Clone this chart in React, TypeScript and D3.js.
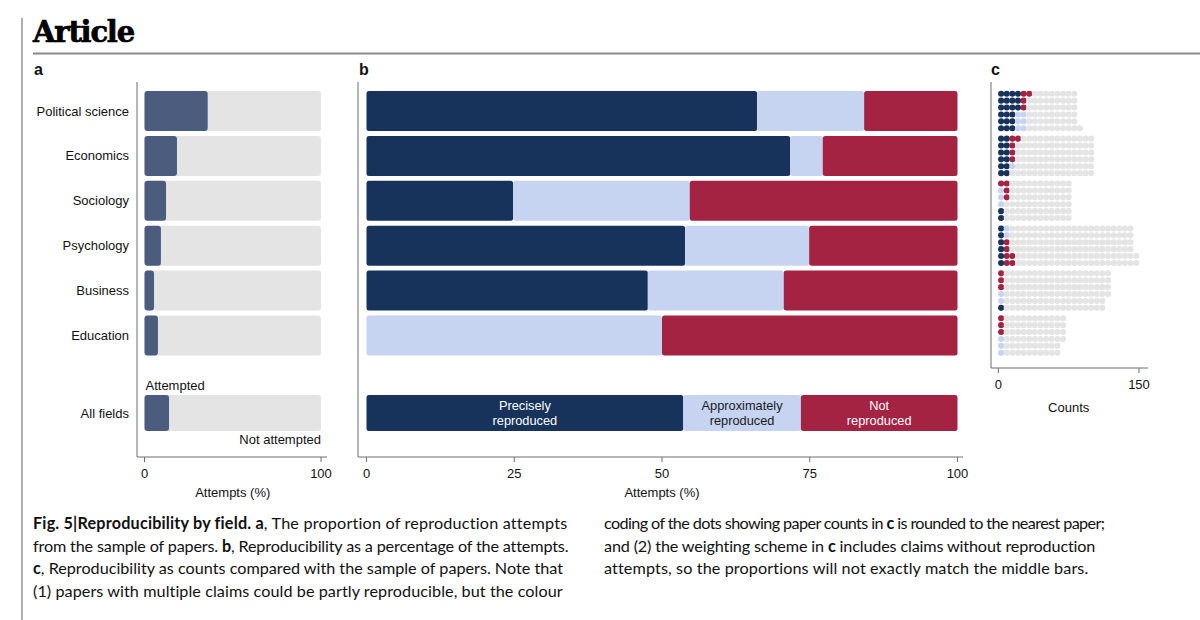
import React, { useLayoutEffect, useRef } from "react";
import * as d3 from "d3";

const fields = ["Political science", "Economics", "Sociology", "Psychology", "Business", "Education"];
const allLabel = "All fields";

// panel a: share of papers with an attempted reproduction (%)
const attempted = [35.8, 18.4, 12.2, 9.3, 5.4, 7.6];
const attemptedAll = 13.9;

// panel b: reproducibility of attempts (%)
const precise = [66.1, 71.7, 24.8, 53.9, 47.6, 0];
const approx = [18.1, 5.5, 29.9, 21.0, 23.0, 50.0];
const notRep = [15.8, 22.8, 45.3, 25.1, 29.4, 50.0];
const preciseAll = 53.6;
const approxAll = 19.9;
const notAll = 26.5;

// panel c: dot counts per row (6 rows per field), by colour, and total dots per row
const dotPrecise = [
  [4, 4, 4, 3, 3, 3],
  [2, 2, 2, 2, 2, 2],
  [0, 0, 0, 0, 1, 1],
  [1, 1, 1, 1, 1, 1],
  [0, 0, 0, 0, 0, 1],
  [0, 0, 0, 0, 0, 0],
];
const dotApprox = [
  [0, 0, 0, 2, 2, 2],
  [0, 0, 0, 0, 1, 0],
  [0, 1, 1, 1, 0, 0],
  [1, 1, 0, 0, 0, 0],
  [0, 0, 0, 1, 1, 0],
  [0, 0, 0, 1, 1, 1],
];
const dotNot = [
  [2, 1, 1, 0, 0, 0],
  [2, 1, 1, 1, 0, 0],
  [2, 1, 1, 0, 0, 0],
  [0, 0, 1, 1, 2, 2],
  [1, 1, 1, 0, 0, 0],
  [1, 1, 1, 0, 0, 0],
];
const dotTotal = [
  [14, 14, 14, 14, 14, 15],
  [17, 17, 17, 17, 17, 17],
  [13, 13, 13, 13, 13, 13],
  [24, 24, 24, 24, 25, 25],
  [20, 20, 20, 20, 19, 19],
  [12, 12, 12, 12, 11, 11],
];

const ticksA = [0, 100];
const ticksB = [0, 25, 50, 75, 100];
const ticksC = [0, 150];

// caption lines: [bold prefix, regular, bold, regular]
const captionLines: string[][] = [
  ["Fig. 5|Reproducibility by field. a", ", The proportion of reproduction attempts"],
  ["", "from the sample of papers. ", "b", ", Reproducibility as a percentage of the attempts."],
  ["c", ", Reproducibility as counts compared with the sample of papers. Note that"],
  ["", "(1) papers with multiple claims could be partly reproducible, but the colour"],
  ["", "coding of the dots showing paper counts in ", "c", " is rounded to the nearest paper;"],
  ["", "and (2) the weighting scheme in ", "c", " includes claims without reproduction"],
  ["", "attempts, so the proportions will not exactly match the middle bars."],
];
const captionWidths = [534, 535, 530, 530, 501, 492, 484];

const NAVY = "#17325B";
const LIGHT = "#C6D4F1";
const RED = "#A42242";
const GREY = "#E4E4E4";
const SLATE = "#4C5C7F";
const AXIS = "#6f6f6f";
const SANS = "'Liberation Sans', Arial, Helvetica, sans-serif";
const CAP = "Lato, 'Open Sans', sans-serif";

export default function App() {
  const capRefs = useRef<(SVGTextElement | null)[]>([]);

  useLayoutEffect(() => {
    capRefs.current.forEach((el, i) => {
      if (!el) return;
      el.setAttribute("letter-spacing", "0");
      const w = el.getComputedTextLength();
      const n = (el.textContent || "").length;
      const ls = (captionWidths[i] - w) / Math.max(1, n - 1);
      el.setAttribute("letter-spacing", ls.toFixed(3));
    });
  }, []);

  const yC = d3.scalePoint<string>().domain(fields).range([111, 335.5]);
  const yAll = 413;
  const barH = 40;
  const xA = d3.scaleLinear().domain([0, 100]).range([144.5, 321]);
  const xB = d3.scaleLinear().domain([0, 100]).range([366.5, 957.5]);
  const xC = d3.scaleLinear().domain([0, 150]).range([998.3, 1139]);
  const axisY = 457;
  const axisYC = 368;

  const rows = fields.map((f, i) => ({ f, y: yC(f) as number, i }));

  const stacked = (p: number, a: number, n: number) => {
    const segs = [
      { v0: 0, v1: p, c: NAVY },
      { v0: p, v1: p + a, c: LIGHT },
      { v0: p + a, v1: p + a + n, c: RED },
    ];
    return segs.filter((s) => s.v1 - s.v0 > 0.01);
  };

  const dots: { x: number; y: number; c: string; k: string }[] = [];
  const rowPitch = 6.9;
  fields.forEach((f, i) => {
    const cy = yC(f) as number;
    for (let r = 0; r < 6; r++) {
      const y = cy + (r - 2.5) * rowPitch;
      const np = dotPrecise[i][r];
      const na = dotApprox[i][r];
      const nn = dotNot[i][r];
      const tot = dotTotal[i][r];
      for (let j = 0; j < tot; j++) {
        let c = GREY;
        if (j < np) c = NAVY;
        else if (j < np + na) c = LIGHT;
        else if (j < np + na + nn) c = RED;
        dots.push({ x: xC(6 * j + 3), y, c, k: `${i}-${r}-${j}` });
      }
    }
  });

  const capPos = [
    { x: 33, y: 529 },
    { x: 33, y: 551.5 },
    { x: 33, y: 574 },
    { x: 33, y: 596.5 },
    { x: 604, y: 529 },
    { x: 604, y: 551.5 },
    { x: 604, y: 574 },
  ];

  return (
    <div style={{ position: "absolute", left: 0, top: 0 }}>
      <svg width={1200} height={620} viewBox="0 0 1200 620" style={{ display: "block", background: "#fff" }}>
        {/* frame */}
        <line x1={22} x2={22} y1={18} y2={620} stroke="#7a7a7a" strokeWidth={1.2} />
        <text x={33} y={42} fontFamily="'DejaVu Serif', serif" fontWeight={700} fontSize={29} letterSpacing={-1.2} fill="#000" stroke="#000" strokeWidth={0.7}>
          Article
        </text>
        <line x1={33} x2={1200} y1={53.5} y2={53.5} stroke="#8a8a8a" strokeWidth={2} />

        {/* panel labels */}
        <text x={34} y={75} fontFamily={SANS} fontWeight={700} fontSize={16} fill="#111">a</text>
        <text x={359} y={75} fontFamily={SANS} fontWeight={700} fontSize={16} fill="#111">b</text>
        <text x={991} y={75} fontFamily={SANS} fontWeight={700} fontSize={16} fill="#111">c</text>

        {/* row labels */}
        {rows.map((r) => (
          <text key={r.f} x={129} y={r.y} textAnchor="end" dominantBaseline="central" fontFamily={SANS} fontSize={13} fill="#111">
            {r.f}
          </text>
        ))}
        <text x={129} y={yAll} textAnchor="end" dominantBaseline="central" fontFamily={SANS} fontSize={13} fill="#111">
          {allLabel}
        </text>

        {/* panel a */}
        {rows.map((r) => (
          <g key={"a" + r.f}>
            <rect x={xA(0)} y={r.y - barH / 2} width={xA(100) - xA(0)} height={barH} rx={3} fill={GREY} />
            <rect x={xA(0)} y={r.y - barH / 2} width={xA(attempted[r.i]) - xA(0)} height={barH} rx={3} fill={SLATE} />
          </g>
        ))}
        <rect x={xA(0)} y={yAll - barH / 2 + 2} width={xA(100) - xA(0)} height={barH - 4} rx={3} fill={GREY} />
        <rect x={xA(0)} y={yAll - barH / 2 + 2} width={xA(attemptedAll) - xA(0)} height={barH - 4} rx={3} fill={SLATE} />
        <text x={xA(0) + 1} y={390} fontFamily={SANS} fontSize={13} fill="#111">Attempted</text>
        <text x={xA(100)} y={444} textAnchor="end" fontFamily={SANS} fontSize={13} fill="#111">Not attempted</text>
        <line x1={137} x2={137} y1={82} y2={axisY} stroke={AXIS} strokeWidth={1} />
        <line x1={137} x2={327} y1={axisY} y2={axisY} stroke={AXIS} strokeWidth={1} />
        {ticksA.map((t) => (
          <g key={"ta" + t}>
            <line x1={xA(t)} x2={xA(t)} y1={axisY} y2={axisY + 5} stroke={AXIS} />
            <text x={xA(t)} y={478} textAnchor="middle" fontFamily={SANS} fontSize={13} fill="#111">{t}</text>
          </g>
        ))}
        <text x={(xA(0) + xA(100)) / 2} y={497} textAnchor="middle" fontFamily={SANS} fontSize={13} fill="#111">Attempts (%)</text>

        {/* panel b */}
        {rows.map((r) =>
          stacked(precise[r.i], approx[r.i], notRep[r.i]).map((s, k) => (
            <rect key={"b" + r.f + k} x={xB(s.v0)} y={r.y - barH / 2} width={xB(s.v1) - xB(s.v0)} height={barH} rx={2.5} fill={s.c} />
          ))
        )}
        {stacked(preciseAll, approxAll, notAll).map((s, k) => (
          <rect key={"ball" + k} x={xB(s.v0)} y={yAll - barH / 2 + 2} width={xB(s.v1) - xB(s.v0)} height={barH - 4} rx={2.5} fill={s.c} />
        ))}
        {[
          { l1: "Precisely", l2: "reproduced", c: (0 + preciseAll) / 2, fill: "#fff" },
          { l1: "Approximately", l2: "reproduced", c: preciseAll + approxAll / 2, fill: "#1a1a1a" },
          { l1: "Not", l2: "reproduced", c: preciseAll + approxAll + notAll / 2, fill: "#fff" },
        ].map((d) => (
          <g key={d.l1}>
            <text x={xB(d.c)} y={yAll - 7.5} textAnchor="middle" dominantBaseline="central" fontFamily={SANS} fontSize={12.8} fill={d.fill}>{d.l1}</text>
            <text x={xB(d.c)} y={yAll + 7.5} textAnchor="middle" dominantBaseline="central" fontFamily={SANS} fontSize={12.8} fill={d.fill}>{d.l2}</text>
          </g>
        ))}
        <line x1={358} x2={358} y1={82} y2={axisY} stroke={AXIS} strokeWidth={1} />
        <line x1={358} x2={963} y1={axisY} y2={axisY} stroke={AXIS} strokeWidth={1} />
        {ticksB.map((t) => (
          <g key={"tb" + t}>
            <line x1={xB(t)} x2={xB(t)} y1={axisY} y2={axisY + 5} stroke={AXIS} />
            <text x={xB(t)} y={478} textAnchor="middle" fontFamily={SANS} fontSize={13} fill="#111">{t}</text>
          </g>
        ))}
        <text x={(xB(0) + xB(100)) / 2} y={497} textAnchor="middle" fontFamily={SANS} fontSize={13} fill="#111">Attempts (%)</text>

        {/* panel c */}
        {dots.map((d) => (
          <circle key={d.k} cx={d.x} cy={d.y} r={3.05} fill={d.c} />
        ))}
        <line x1={991} x2={991} y1={82} y2={axisYC} stroke={AXIS} strokeWidth={1} />
        <line x1={991} x2={1148} y1={axisYC} y2={axisYC} stroke={AXIS} strokeWidth={1} />
        {ticksC.map((t) => (
          <g key={"tc" + t}>
            <line x1={xC(t)} x2={xC(t)} y1={axisYC} y2={axisYC + 5} stroke={AXIS} />
            <text x={xC(t)} y={389} textAnchor="middle" fontFamily={SANS} fontSize={13} fill="#111">{t}</text>
          </g>
        ))}
        <text x={(xC(0) + xC(150)) / 2} y={412} textAnchor="middle" fontFamily={SANS} fontSize={13} fill="#111">Counts</text>

        {/* caption */}
        <g fontFamily={CAP} fontSize={16.2} fill="#111">
          {captionLines.map((parts, i) => (
            <text
              key={"cap" + i}
              ref={(el) => {
                capRefs.current[i] = el;
              }}
              x={capPos[i].x}
              y={capPos[i].y}
            >
              {parts.map((p, k) =>
                p ? (
                  <tspan key={k} fontWeight={k % 2 === 0 ? 700 : 400}>
                    {p}
                  </tspan>
                ) : null
              )}
            </text>
          ))}
        </g>
      </svg>
    </div>
  );
}
